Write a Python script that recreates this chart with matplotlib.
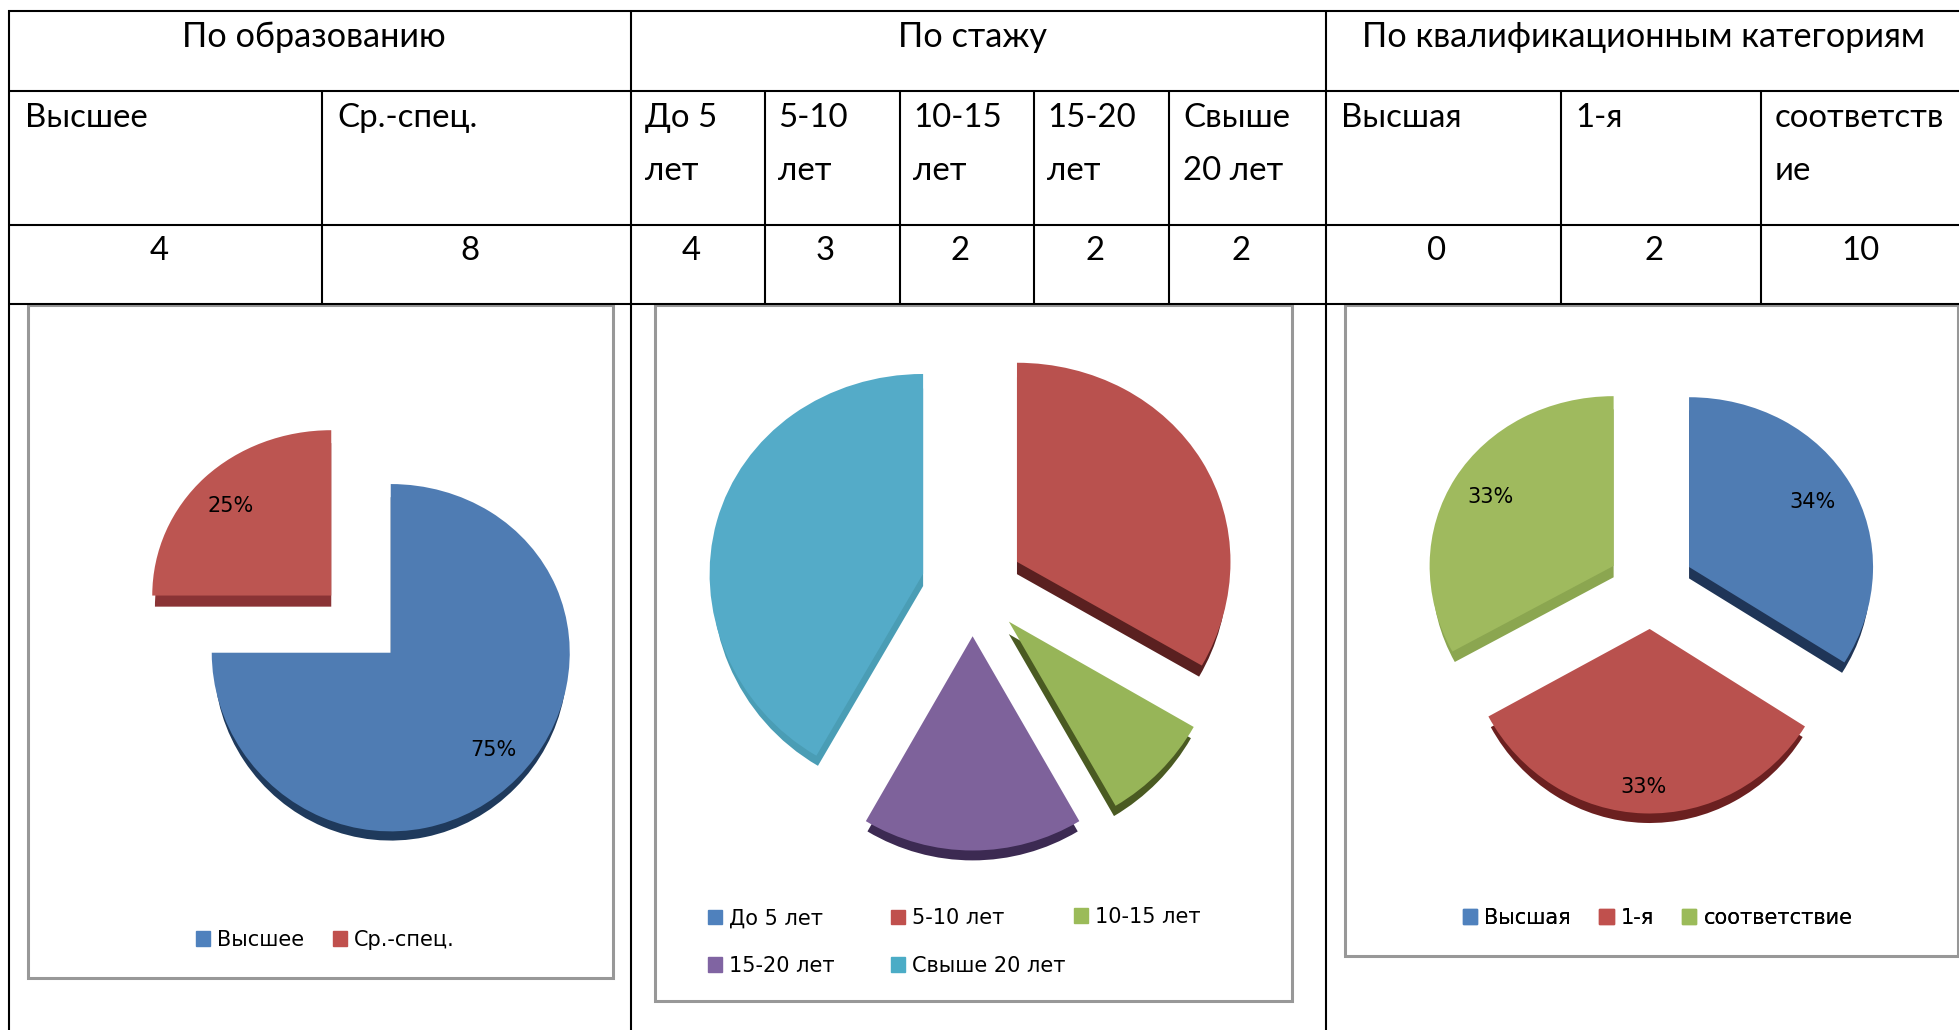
import numpy as np
import matplotlib
matplotlib.use("Agg")
import matplotlib.pyplot as plt
from matplotlib.patches import Patch, Rectangle

W, H = 1959, 1030
TABLE_FONT = ['Lato', 'Open Sans', 'DejaVu Sans']
CHART_FONT = ['DejaVu Sans']

# ---- table content
group_titles = ["По образованию", "По стажу", "По квалификационным категориям"]
group_title_x = [313.5, 973, 1643]
col_lines = [322, 765, 900, 1034, 1169, 1561, 1761]
group_lines = [9, 631, 1326]
col_names = ["Высшее", "Ср.-спец.", "До 5\nлет", "5-10\nлет", "10-15\nлет", "15-20\nлет",
             "Свыше\n20 лет", "Высшая", "1-я", "соответств\nие"]
col_name_x = [25, 337, 645, 778, 913, 1047, 1183, 1341, 1575, 1775]
col_counts = ["4", "8", "4", "3", "2", "2", "2", "0", "2", "10"]
col_count_x = [159, 470, 691, 825, 960, 1095, 1241, 1437, 1654, 1860]

# ---- chart 1
edu_names = ["Высшее", "Ср.-спец."]
edu_values = [75, 25]
edu_colors = ["#4F7CB3", "#BC5551"]
edu_sides = ["#1F3A5C", "#8A3335"]
edu_legend = ["#4F81BD", "#C0504D"]

# ---- chart 2
exp_names = ["До 5 лет", "5-10 лет", "10-15 лет", "15-20 лет", "Свыше 20 лет"]
exp_values = [0, 4, 1, 2, 5]
exp_colors = ["#4F7CB3", "#B9514E", "#97B558", "#7E629B", "#54ABC8"]
exp_sides = ["#1F3A5C", "#5A2020", "#4A5A22", "#3C2A52", "#4A9DB5"]
exp_legend = ["#4F81BD", "#C0504D", "#9BBB59", "#8064A2", "#4BACC6"]

# ---- chart 3
cat_names = ["Высшая", "1-я", "соответствие"]
cat_values = [34, 33, 33]
cat_colors = ["#4F7CB3", "#B9514E", "#9FBA5E"]
cat_sides = ["#1F3557", "#6B2020", "#8BA650"]
cat_legend = ["#4F81BD", "#C0504D", "#9BBB59"]

plt.rcParams['font.family'] = CHART_FONT
fig = plt.figure(figsize=(W / 100, H / 100), dpi=100, facecolor="white")

page = fig.add_axes([0, 0, 1, 1], zorder=0)
page.set_xlim(0, W)
page.set_ylim(H, 0)
page.axis("off")

# table rules
LW = 1.5
for y in [11, 91, 225, 304]:
    page.plot([8, W], [y, y], color="black", lw=LW, solid_capstyle="butt")
for x in group_lines:
    page.plot([x, x], [10, H], color="black", lw=LW, solid_capstyle="butt")
for x in col_lines:
    page.plot([x, x], [91, 304], color="black", lw=LW, solid_capstyle="butt")

for t, x in zip(group_titles, group_title_x):
    page.text(x, 47, t, family=TABLE_FONT, fontsize=24.7, ha="center", va="baseline")
for t, x in zip(col_names, col_name_x):
    for i, part in enumerate(t.split("\n")):
        page.text(x, 127 + i * 53, part, family=TABLE_FONT, fontsize=23.8, ha="left", va="baseline")
for t, x in zip(col_counts, col_count_x):
    page.text(x, 260, t, family=TABLE_FONT, fontsize=23.8, ha="center", va="baseline")


def draw_pie(box, centre, rx, u, k, values, explode, colors, sides, depth, labels=False):
    L, T, R, B = box
    page.add_patch(Rectangle((L, T), R - L, B - T, fill=False, ec="#989898", lw=2.2))
    ax = fig.add_axes([L / W, 1 - B / H, (R - L) / W, (B - T) / H], zorder=2)
    forward = lambda y: y - k * np.square(y)
    inverse = lambda v: (1 - np.sqrt(np.maximum(1 - 4 * k * np.asarray(v), 0))) / (2 * k)
    ex = [explode] * len(values)
    ax.pie(values, explode=ex, colors=sides, startangle=90, counterclock=False,
           center=(0, -depth), radius=0.985, wedgeprops={"linewidth": 0})
    kw = {"autopct": "%.0f%%", "pctdistance": 0.78,
          "textprops": {"fontsize": 15, "color": "black"}} if labels else {}
    res = ax.pie(values, explode=ex, colors=colors, startangle=90, counterclock=False,
                 wedgeprops={"linewidth": 0}, **kw)
    ax.set_aspect("auto")
    ax.set_yscale("function", functions=(forward, inverse))
    ax.set_xlim((L - centre[0]) / rx, (R - centre[0]) / rx)
    ax.set_ylim(inverse((centre[1] - B) / u), inverse((centre[1] - T) / u))
    ax.axis("off")
    return res


def add_legend(names, colors, x, y, ncol=1, columnspacing=1.0, labelspacing=0.5):
    leg = page.legend(
        [Patch(color=c) for c in colors], names, ncol=ncol,
        loc="center left", bbox_to_anchor=(x, y), bbox_transform=page.transData,
        frameon=False, fontsize=15, borderpad=0, borderaxespad=0,
        handlelength=0.69, handleheight=0.69, handletextpad=0.34,
        columnspacing=columnspacing, labelspacing=labelspacing)
    page.add_artist(leg)


def nudge(label, dx, dy):
    lx, ly = label.get_position()
    label.set_position((lx + dx, ly + dy))


pie1 = draw_pie((28, 305, 613, 978), (361, 624), 179, 172, 0.029,
                edu_values, 0.235, edu_colors, edu_sides, 0.065, labels=True)
nudge(pie1[2][0], 0.02, 0)
nudge(pie1[2][1], -0.01, -0.02)
add_legend(edu_names, edu_legend, 196, 940, ncol=2, columnspacing=1.35)

draw_pie((655, 305, 1292, 1001), (972.6, 586.5), 213.5, 206, 0.027,
         exp_values, 0.24, exp_colors, exp_sides, 0.06)
add_legend([exp_names[0], exp_names[3]], [exp_legend[0], exp_legend[3]], 708, 942, labelspacing=1.32)
add_legend([exp_names[1], exp_names[4]], [exp_legend[1], exp_legend[4]], 891, 942, labelspacing=1.32)
add_legend([exp_names[2]], [exp_legend[2]], 1074, 917)

pie3 = draw_pie((1345, 305, 1958, 956), (1651, 587), 184, 176.5, 0.031,
                cat_values, 0.236, cat_colors, cat_sides, 0.065, labels=True)
nudge(pie3[2][0], -0.012, 0)
nudge(pie3[2][1], -0.01, -0.08)
add_legend(cat_names, cat_legend, 1463, 918, ncol=3, columnspacing=1.35)

fig.savefig("out.png", dpi=100, facecolor="white")
